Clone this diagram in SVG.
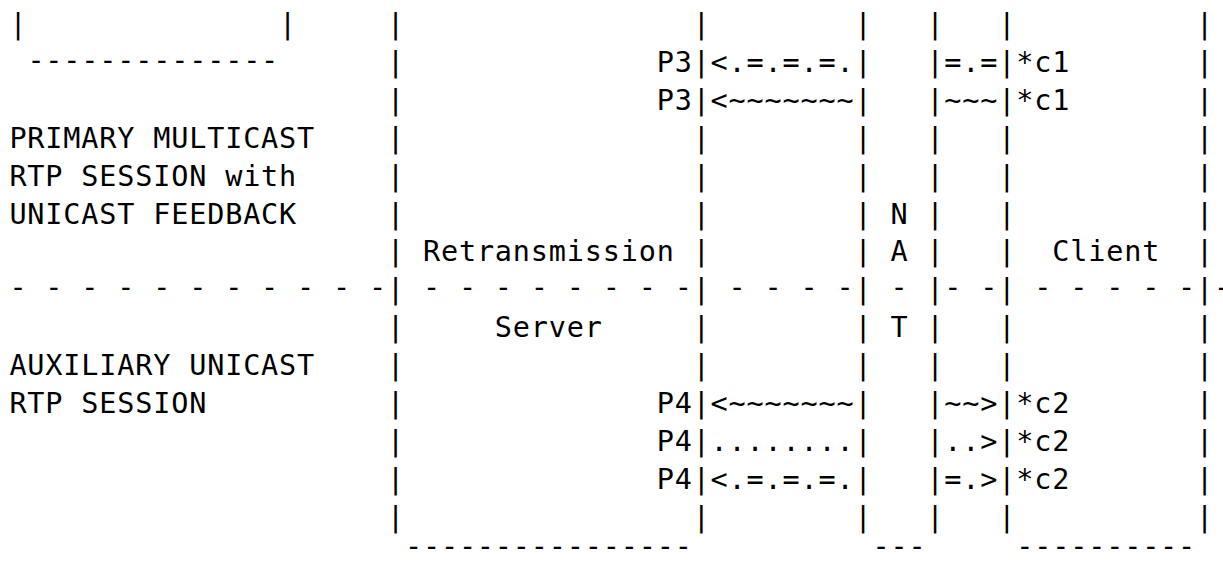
<svg xmlns="http://www.w3.org/2000/svg" xmlns:xlink="http://www.w3.org/1999/xlink" width="1223" height="561" viewBox="0 0 1223 561">
<style>
  .t { font-family: "DejaVu Sans Mono", "Liberation Mono", monospace; font-size: 28.5px; letter-spacing: 0.822px; fill: #000; white-space: pre; }
</style>
<defs>
  <text id="pcol" class="t" x="0 0 0 0 0 0 0 0 0 0 0 0 0 0" y="34 71.9 109.8 147.7 185.6 223.5 261.4 299.3 337.2 375.1 413 450.9 488.8 526.7">||||||||||||||</text>
</defs>
<rect width="1223" height="561" fill="#fff"/>

<g id="session-labels">
  <text class="t" x="9.4" y="147.7">PRIMARY MULTICAST</text>
  <text class="t" x="9.4" y="185.6">RTP SESSION with</text>
  <text class="t" x="9.4" y="223.5">UNICAST FEEDBACK</text>
  <text class="t" x="9.4" y="375.1">AUXILIARY UNICAST</text>
  <text class="t" x="9.4" y="413">RTP SESSION</text>
</g>

<g id="source-box">
  <text class="t" x="9.4" y="34">|</text>
  <text class="t" x="279.1" y="34">|</text>
  <text class="t" x="27.38" y="70">--------------</text>
</g>

<g id="retransmission-server">
  <use xlink:href="#pcol" x="386.98"/>
  <use xlink:href="#pcol" x="692.64"/>
  <text class="t" x="422.94" y="261.4">Retransmission</text>
  <text class="t" x="494.86" y="337.2">Server</text>
  <text class="t" x="404.96" y="556">----------------</text>
</g>

<g id="nat">
  <use xlink:href="#pcol" x="854.46"/>
  <use xlink:href="#pcol" x="926.38"/>
  <text class="t" x="890.42" y="223.5">N</text>
  <text class="t" x="890.42" y="261.4">A</text>
  <text class="t" x="890.42" y="337.2">T</text>
  <text class="t" x="872.44" y="556">---</text>
</g>

<g id="client">
  <use xlink:href="#pcol" x="998.3"/>
  <use xlink:href="#pcol" x="1196.08"/>
  <text class="t" x="1052.24" y="261.4">Client</text>
  <text class="t" x="1016.28" y="556">----------</text>
</g>

<g id="separator">
  <text class="t" x="9.4" y="297">- - - - - - - - - - -</text>
  <text class="t" x="422.94" y="297">- - - - - - - -</text>
  <text class="t" x="728.6" y="297">- - - -</text>
  <text class="t" x="890.42" y="297">-</text>
  <text class="t" x="944.36" y="297">- -</text>
  <text class="t" x="1034.26" y="297">- - - - -</text>
  <text class="t" x="1214.06" y="297">-</text>
</g>

<g id="connectors">
  <text class="t" x="656.68" y="71.9">P3</text>
  <text class="t" x="710.62" y="71.9">&lt;.=.=.=.</text>
  <text class="t" x="944.36" y="71.9">=.=</text>
  <text class="t" x="1016.28" y="71.9">*c1</text>

  <text class="t" x="656.68" y="109.8">P3</text>
  <text class="t" x="710.62" y="109.8">&lt;~~~~~~~</text>
  <text class="t" x="944.36" y="109.8">~~~</text>
  <text class="t" x="1016.28" y="109.8">*c1</text>

  <text class="t" x="656.68" y="413">P4</text>
  <text class="t" x="710.62" y="413">&lt;~~~~~~~</text>
  <text class="t" x="944.36" y="413">~~&gt;</text>
  <text class="t" x="1016.28" y="413">*c2</text>

  <text class="t" x="656.68" y="450.9">P4</text>
  <text class="t" x="710.62" y="450.9">........</text>
  <text class="t" x="944.36" y="450.9">..&gt;</text>
  <text class="t" x="1016.28" y="450.9">*c2</text>

  <text class="t" x="656.68" y="488.8">P4</text>
  <text class="t" x="710.62" y="488.8">&lt;.=.=.=.</text>
  <text class="t" x="944.36" y="488.8">=.&gt;</text>
  <text class="t" x="1016.28" y="488.8">*c2</text>
</g>
</svg>
